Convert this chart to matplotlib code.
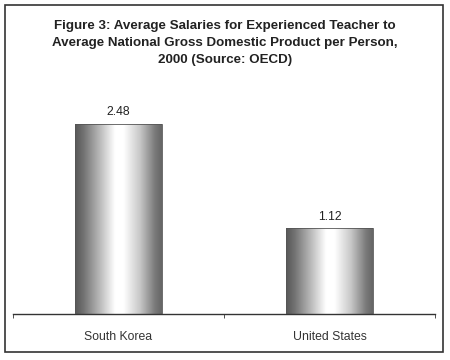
import numpy as np
import matplotlib
matplotlib.use("Agg")
import matplotlib.pyplot as plt
from matplotlib.patches import Rectangle
from matplotlib.colors import LinearSegmentedColormap

categories = ["South Korea", "United States"]
values = [2.48, 1.12]
value_labels = ["2.48", "1.12"]
title = ("Figure 3: Average Salaries for Experienced Teacher to\n"
         "Average National Gross Domestic Product per Person,\n"
         "2000 (Source: OECD)")

plt.rcParams['font.family'] = ['Liberation Sans', 'DejaVu Sans']

fig = plt.figure(figsize=(4.5, 3.6), dpi=100)
fig.patch.set_facecolor("white")

# outer frame
fig.patches.append(Rectangle((5/450, 1 - 352/360), 438/450, 347/360,
                             transform=fig.transFigure, fill=False,
                             edgecolor="#333333", linewidth=1.2))

fig.text(0.5, 1 - 43/360, title, ha="center", va="center", fontsize=9.6,
         fontweight="bold", color="#222222", linespacing=1.55)

ax = fig.add_axes([13/450, 46/360, 422/450, 230/360])
ax.set_xlim(-0.5, 1.5)
ax.set_ylim(0, 3.0)
for s in ["top", "right", "left"]:
    ax.spines[s].set_visible(False)
ax.spines["bottom"].set_color("#333333")
ax.spines["bottom"].set_linewidth(1.0)
ax.set_yticks([])
ax.set_xticks([-0.5, 0.5, 1.5], minor=True)
ax.tick_params(axis="x", which="minor", length=3, direction="out", color="#333333")
ax.set_xticks([0, 1])
ax.set_xticklabels(categories, fontsize=8.8, color="#333333")
ax.tick_params(axis="x", which="major", length=0, pad=12)

cmap = LinearSegmentedColormap.from_list("cyl", [
    (0.0, (0.34, 0.34, 0.34)),
    (0.10, (0.45, 0.45, 0.45)),
    (0.30, (0.75, 0.75, 0.75)),
    (0.46, (1.0, 1.0, 1.0)),
    (0.56, (1.0, 1.0, 1.0)),
    (0.75, (0.78, 0.78, 0.78)),
    (0.92, (0.48, 0.48, 0.48)),
    (1.0, (0.40, 0.40, 0.40)),
])
grad = np.linspace(0, 1, 256).reshape(1, -1)

bars = ax.bar(range(len(categories)), values, width=0.41,
              facecolor="none", edgecolor="#555555", linewidth=0.6, zorder=3)
for b in bars:
    x0, w, h = b.get_x(), b.get_width(), b.get_height()
    im = ax.imshow(grad, cmap=cmap, aspect="auto", extent=[x0, x0 + w, 0, h],
                   zorder=2, interpolation="bilinear")
    im.set_clip_path(b)
ax.set_xlim(-0.5, 1.5)
ax.set_ylim(0, 3.0)

for i, (v, lab) in enumerate(zip(values, value_labels)):
    ax.annotate(lab, (i, v), xytext=(0, 4), textcoords="offset points",
                ha="center", va="bottom", fontsize=8.8, color="#222222")

fig.savefig("out.png", dpi=100)
